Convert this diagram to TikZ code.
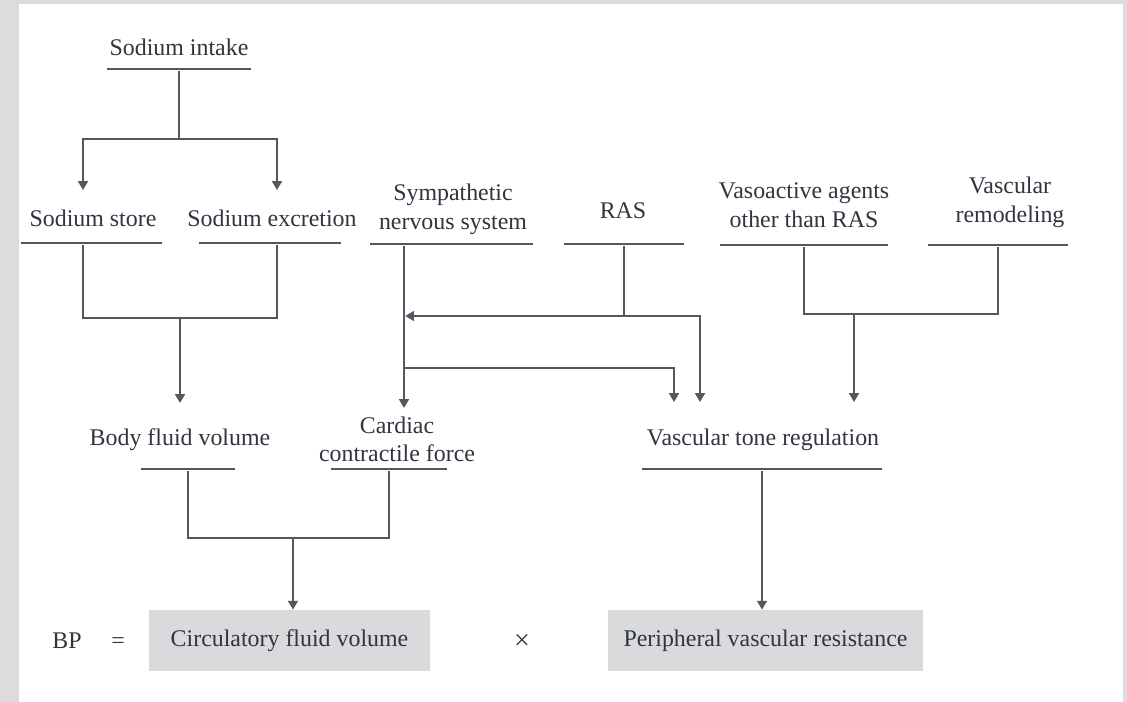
\documentclass[tikz,border=0pt]{standalone}
\usepackage{fontspec}
\setmainfont{Liberation Serif}
\usetikzlibrary{arrows.meta}

\definecolor{txtc}{RGB}{50,52,64}
\definecolor{linec}{RGB}{85,87,94}
\definecolor{boxc}{RGB}{217,218,220}
\definecolor{framec}{RGB}{220,220,220}

\newlength\pxu
\setlength\pxu{0.02cm}

\tikzset{
  lbl/.style={text=txtc, inner sep=0pt, align=center},
  one/.style={lbl, text height=0.7em, text depth=0pt},
  bar/.style={fill=linec, inner sep=0pt, minimum height=1.6pt, minimum width=#1*\pxu},
  res/.style={fill=boxc, text=txtc, inner sep=0pt, minimum height=61\pxu,
    minimum width=#1*\pxu, text height=0.7em, text depth=0pt},
  wire/.style={draw=linec, line width=1.3pt},
}

\begin{document}
\begin{tikzpicture}[x=0.02cm,y=-0.02cm,>={Triangle[length=5pt,width=5.5pt]},font=\fontsize{13.6}{16.4}\selectfont]
  % Rahmen
  \fill[framec] (0,0) rectangle (1127,702);
  \fill[white] (19,4) rectangle (1123,702);

  % Knoten
  \node[one] (intake) at (179,49.5) {Sodium intake};
  \node[bar=144] (intakebar) at (179,69) {};
  \node[one] (store) at (93,220.6) {Sodium store};
  \node[bar=141] (storebar) at (91.5,243) {};
  \node[one] (excr) at (272,220.6) {Sodium excretion};
  \node[bar=142] (excrbar) at (270,243) {};
  \node[lbl] (symp) at (453,209) {Sympathetic\\nervous system};
  \node[bar=163] (sympbar) at (451.5,244) {};
  \node[one] (ras) at (623,212.6) {RAS};
  \node[bar=120] (rasbar) at (624,244) {};
  \node[lbl] (vaso) at (804,205.3) {Vasoactive agents\\other than RAS};
  \node[bar=168] (vasobar) at (804,245) {};
  \node[lbl] (remod) at (1010,202.4) {Vascular\\remodeling};
  \node[bar=140] (remodbar) at (998,245) {};
  \node[one] (body) at (180,439.6) {Body fluid volume};
  \node[bar=94] (bodybar) at (188,469) {};
  \node[lbl] (card) at (397,439.3) {Cardiac\\contractile force};
  \node[bar=116] (cardbar) at (389,469) {};
  \node[one] (tone) at (763,439.6) {Vascular tone regulation};
  \node[bar=240] (tonebar) at (762,469) {};
  \node[one] (bp) at (67,642.6) {BP};
  \node[one] (eq) at (118,642.6) {=};
  \node[res=281] (circ) at (289.5,640.5) {Circulatory fluid volume};
  \node[one,font=\fontsize{16}{18}\selectfont] (times) at (522,643) {×};
  \node[res=315] (periph) at (765.5,640.5) {Peripheral vascular resistance};

  % Pfeile
  \coordinate (in1) at (179,139);
  \coordinate (storetip) at (83,190);
  \coordinate (excrtip) at (277,190);
  \draw[wire,->] (intakebar.south) -- (in1) -| (storetip);
  \draw[wire,->] (in1) -| (excrtip);

  \coordinate (na) at (180,318);
  \coordinate (bodytip) at (180,403);
  \draw[wire] (storebar.south -| storetip) |- (na) -| (excrbar.south -| excrtip);
  \draw[wire,->] (na) -- (bodytip);

  \coordinate (cardtip) at (404,408);
  \coordinate (symj) at (404,368);
  \coordinate (tonetip1) at (674,402);
  \draw[wire,->] (sympbar.south -| cardtip) -- (cardtip);
  \draw[wire,->] (symj) -| (tonetip1);

  \coordinate (rasj) at (624,316);
  \coordinate (tonetip2) at (700,402);
  \draw[wire] (rasbar.south) -- (rasj);
  \draw[wire,->,shorten >=0.65pt] (rasj) -- (rasj -| cardtip);
  \draw[wire,->] (rasj) -| (tonetip2);

  \coordinate (vj) at (854,314);
  \coordinate (tonetip3) at (854,402);
  \draw[wire] (vasobar.south) |- (vj) -| (remodbar.south);
  \draw[wire,->] (vj) -- (tonetip3);

  \coordinate (cj) at (293,538);
  \draw[wire] (bodybar.south) |- (cj) -| (cardbar.south);
  \draw[wire,->] (cj) -- (circ.north -| cj);

  \draw[wire,->] (tonebar.south) -- (tonebar.south |- periph.north);
\end{tikzpicture}
\end{document}
